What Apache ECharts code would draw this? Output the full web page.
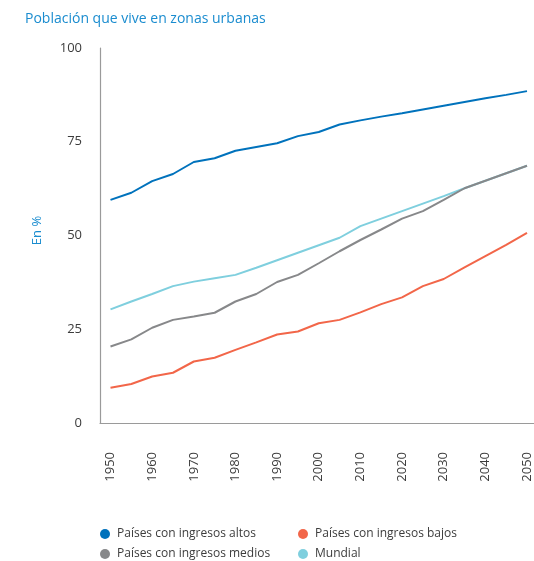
<!DOCTYPE html>
<html>
<head>
<meta charset="utf-8">
<script src="https://cdn.jsdelivr.net/npm/echarts@6/dist/echarts.min.js"></script>
<style>
  html, body { margin: 0; padding: 0; background: #fff; }
  #chart { width: 534px; height: 561px; }
</style>
</head>
<body>
<div id="chart"></div>
<script>
const years = ['1950','1955','1960','1965','1970','1975','1980','1985','1990','1995','2000',
  '2005','2010','2015','2020','2025','2030','2035','2040','2045','2050'];

const altos   = [59.5, 61.4, 64.5, 66.4, 69.6, 70.6, 72.6, 73.6, 74.6, 76.5, 77.6,
  79.6, 80.7, 81.7, 82.6, 83.6, 84.6, 85.6, 86.6, 87.5, 88.5];
const bajos   = [9.4, 10.4, 12.4, 13.4, 16.4, 17.4, 19.5, 21.5, 23.6, 24.4, 26.6,
  27.5, 29.5, 31.7, 33.5, 36.5, 38.4, 41.5, 44.5, 47.5, 50.7];
const medios  = [20.4, 22.3, 25.4, 27.5, 28.4, 29.4, 32.4, 34.4, 37.6, 39.5, 42.6,
  45.8, 48.8, 51.6, 54.5, 56.5, 59.5, 62.6, 64.6, 66.6, 68.6];
const mundial = [30.3, 32.4, 34.4, 36.5, 37.7, 38.6, 39.5, 41.4, 43.4, 45.4, 47.4,
  49.4, 52.5, 54.5, 56.5, 58.5, 60.5, 62.6, 64.6, 66.6, 68.6];

const yTicks = [0, 25, 50, 75, 100];

const names = ['Países con ingresos altos', 'Países con ingresos bajos',
  'Países con ingresos medios', 'Mundial'];
const colors = ['#0072bc', '#f26649', '#87888a', '#7fcfde'];
const values = [altos, bajos, medios, mundial];

const chart = echarts.init(document.getElementById('chart'));
const font = '"Open Sans", sans-serif';
const axisGray = '#9a9a9a';
const textGray = '#3c3c3c';

const series = names.map((name, i) => ({
  name: name,
  type: 'line',
  xAxisIndex: 0,
  yAxisIndex: 0,
  data: values[i],
  symbol: 'none',
  lineStyle: { color: colors[i], width: 2 },
  itemStyle: { color: colors[i] },
  z: i === 0 ? 5 : 4 - i
}));

// one legend per item, placed in a 2x2 grid like the reference
const legendPos = [[100, 527], [298, 527], [100, 547], [298, 547]];
const legends = names.map((name, i) => ({
  data: [name],
  left: legendPos[i][0],
  top: legendPos[i][1],
  itemWidth: 14,
  itemHeight: 10,
  icon: 'circle',
  selectedMode: false,
  padding: 0,
  textStyle: { fontFamily: font, fontSize: 12, color: textGray, lineHeight: 14 }
}));

chart.setOption({
  animation: false,
  textStyle: { fontFamily: font },
  title: {
    text: 'Población que vive en zonas urbanas',
    left: 20,
    top: 7,
    textStyle: { fontFamily: font, fontSize: 14, fontWeight: 'normal', color: '#1a8ccf' }
  },
  legend: legends,
  grid: [
    { left: 110.5, right: 7, top: 48, bottom: 138 },
    { left: 100, right: 0, top: 48, bottom: 138 }
  ],
  xAxis: [
    {
      type: 'category',
      gridIndex: 0,
      data: years,
      boundaryGap: false,
      axisLine: { show: false },
      axisTick: { show: false },
      splitLine: { show: false },
      axisLabel: {
        interval: 1,
        rotate: 90,
        margin: 29,
        fontSize: 13,
        color: textGray,
        fontFamily: font
      }
    },
    {
      type: 'value',
      gridIndex: 1,
      min: 0,
      max: 1,
      axisLine: { show: true, lineStyle: { color: axisGray, width: 1.2 } },
      axisTick: { show: false },
      axisLabel: { show: false },
      splitLine: { show: false }
    }
  ],
  yAxis: [
    {
      type: 'value',
      gridIndex: 0,
      min: 0,
      max: 100,
      show: false
    },
    {
      type: 'value',
      gridIndex: 1,
      min: yTicks[0],
      max: yTicks[yTicks.length - 1],
      interval: 25,
      name: 'En %',
      nameLocation: 'middle',
      nameGap: 56,
      nameTextStyle: { fontFamily: font, fontSize: 13, color: '#1a8ccf', padding: [0, 0, 0, 10] },
      axisLine: { show: true, lineStyle: { color: axisGray, width: 1.2 } },
      axisTick: { show: false },
      splitLine: { show: false },
      axisLabel: { margin: 18, fontSize: 13, color: textGray, fontFamily: font }
    }
  ],
  series: series
});
</script>
</body>
</html>
